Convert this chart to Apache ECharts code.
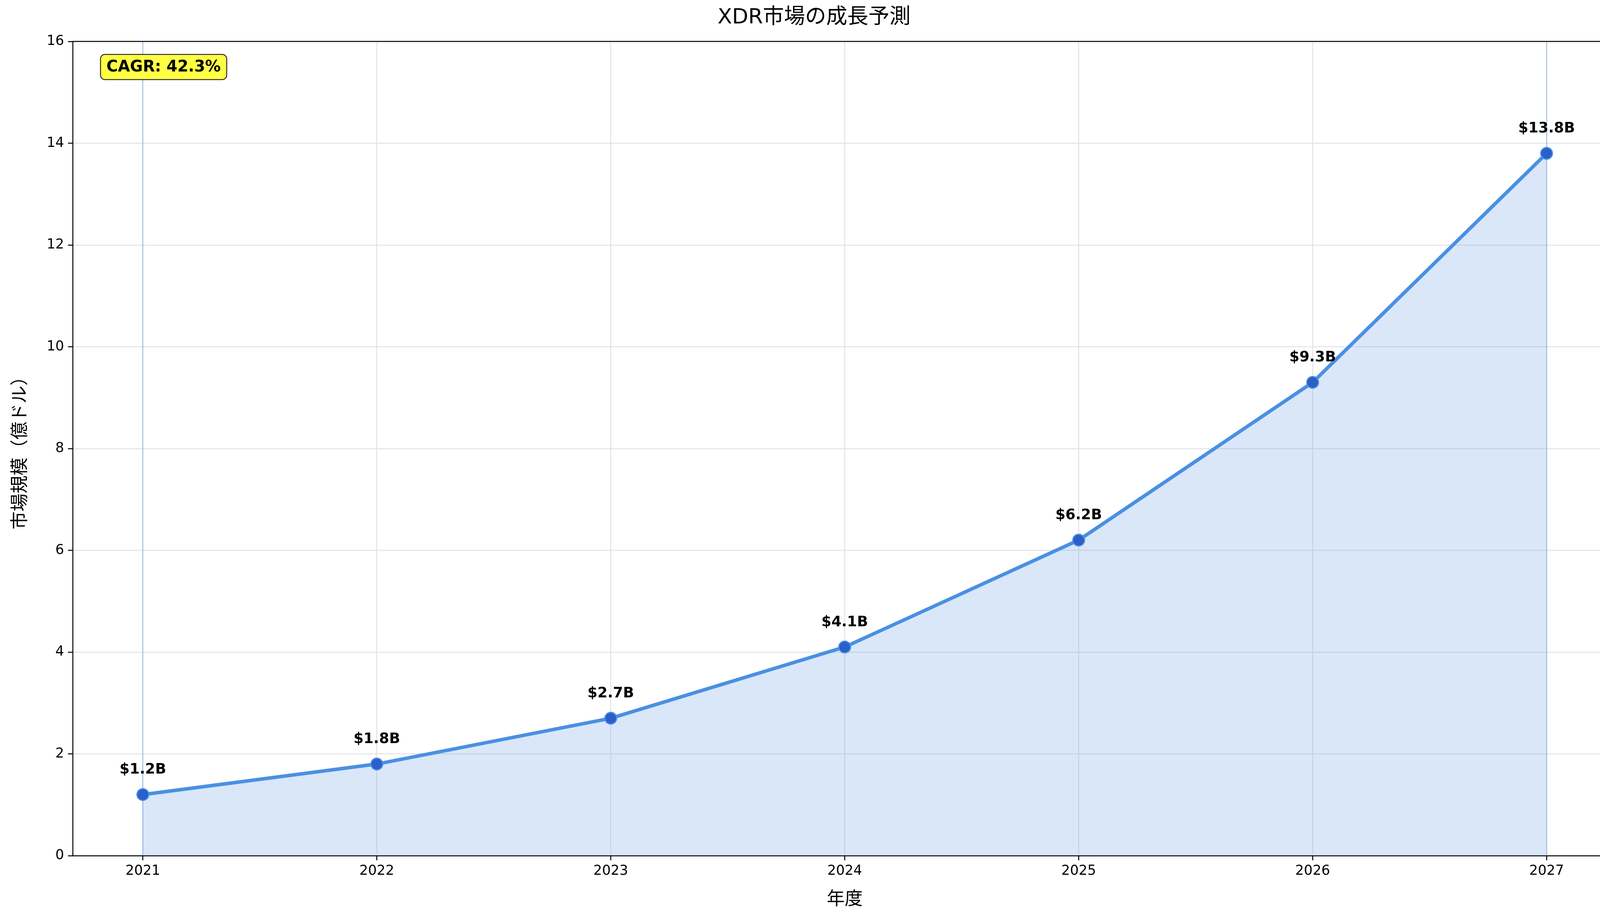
<!DOCTYPE html>
<html><head><meta charset="utf-8">
<script src="https://cdn.jsdelivr.net/npm/echarts@6/dist/echarts.min.js"></script>
<style>html,body{margin:0;padding:0;background:#fff}#c{width:4168px;height:2365px}</style>
</head><body><div id="c"></div>
<script>
const years = [2021, 2022, 2023, 2024, 2025, 2026, 2027];
const values = [1.2, 1.8, 2.7, 4.1, 6.2, 9.3, 13.8];
const labels = ['$1.2B', '$1.8B', '$2.7B', '$4.1B', '$6.2B', '$9.3B', '$13.8B'];
const yTicks = [0, 2, 4, 6, 8, 10, 12, 14, 16];
const titleText = 'XDR市場の成長予測';
const xName = '年度';
const yName = '市場規模（億ドル）';
const cagrText = 'CAGR: 42.3%';

const F = 'DejaVu Sans, "Noto Sans CJK JP", sans-serif';
const chart = echarts.init(document.getElementById('c'));
const data = years.map((y, i) => [y, values[i]]);
chart.setOption({
  animation: false,
  title: { text: titleText, left: 'center', top: 14, textStyle: { fontFamily: F, fontSize: 54, fontWeight: 'normal', color: '#000' } },
  grid: { left: 186, right: 29, top: 106, bottom: 175 },
  xAxis: {
    type: 'value', min: 2020.7, max: 2027.3,
    name: xName, nameLocation: 'middle', nameGap: 90,
    nameTextStyle: { fontFamily: F, fontSize: 46, color: '#000' },
    axisLine: { lineStyle: { color: '#000', width: 2.5 } },
    axisTick: { show: true, customValues: years, length: 12, lineStyle: { color: '#000', width: 2.5 } },
    axisLabel: { customValues: years, fontFamily: F, fontSize: 35, color: '#000', margin: 22, formatter: v => String(v) },
    splitLine: { show: true, lineStyle: { color: '#e3e3e3', width: 2.5 } }
  },
  yAxis: {
    type: 'value', min: 0, max: 16, interval: 2,
    name: yName, nameLocation: 'middle', nameGap: 110, nameRotate: 90,
    nameTextStyle: { fontFamily: F, fontSize: 46, color: '#000' },
    axisLine: { show: true, lineStyle: { color: '#000', width: 2.5 } },
    axisTick: { show: true, length: 12, lineStyle: { color: '#000', width: 2.5 } },
    axisLabel: { fontFamily: F, fontSize: 35, color: '#000', margin: 22 },
    splitLine: { show: true, lineStyle: { color: '#e3e3e3', width: 2.5 } }
  },
  graphic: [
    { type: 'line', shape: { x1: 4139, y1: 106, x2: 4139, y2: 2190 }, style: { stroke: '#000', lineWidth: 2.5 }, z: 10 },
    { type: 'line', shape: { x1: 186, y1: 106, x2: 4139, y2: 106 }, style: { stroke: '#000', lineWidth: 2.5 }, z: 10 },
    { type: 'text', left: 256, top: 138, z: 20,
      style: { text: cagrText, font: 'bold 40px DejaVu Sans', fill: '#000',
        backgroundColor: '#ffff44', borderColor: '#333', borderWidth: 2.5, borderRadius: 10, padding: [12, 14, 10, 14] } }
  ],
  series: [{
    type: 'line', data: data,
    lineStyle: { color: '#4a90e2', width: 9 },
    areaStyle: { color: 'rgba(74,144,226,0.3)' },
    symbol: 'circle', symbolSize: 30,
    itemStyle: { color: '#2b5fc9', borderColor: '#4a90e2', borderWidth: 3 },
    label: { show: true, position: 'top', distance: 28, formatter: p => labels[p.dataIndex],
      fontFamily: F, fontSize: 37, fontWeight: 'bold', color: '#000' },
    markLine: { silent: true, symbol: 'none', label: { show: false },
      lineStyle: { color: 'rgba(74,144,226,0.35)', width: 3, type: 'solid' },
      data: [{ xAxis: 2021 }, { xAxis: 2027 }].map(d => d) , z: 1 }
  }]
});
</script></body></html>
